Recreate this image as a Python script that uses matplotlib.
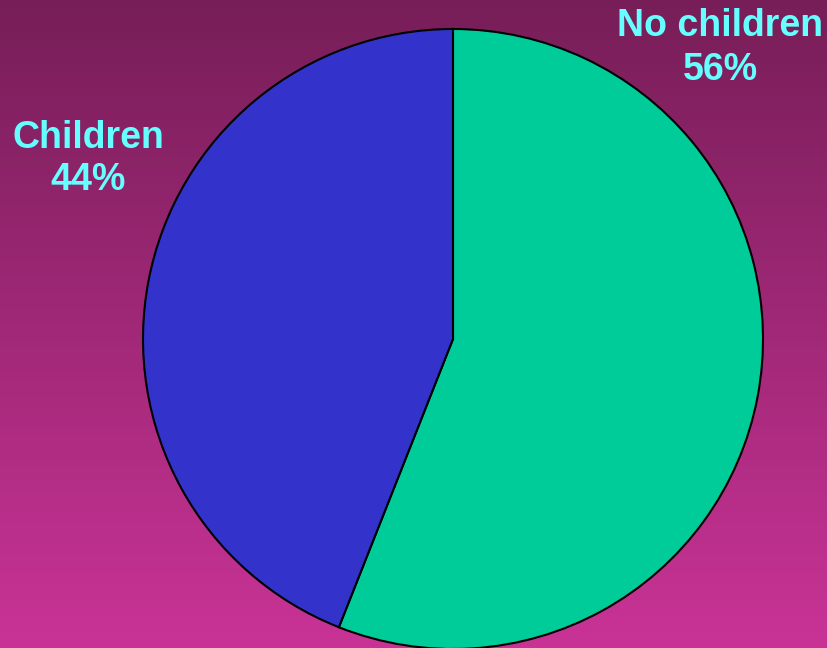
import numpy as np
import matplotlib.pyplot as plt
from matplotlib.colors import LinearSegmentedColormap

labels = ['No children', 'Children']
shares = [56, 44]
colors = ['#00cc99', '#3333cc']

W, H = 827, 648
fig = plt.figure(figsize=(W / 100, H / 100), dpi=100)

# vertical purple-to-magenta backdrop
bg = fig.add_axes([0, 0, 1, 1])
grad = np.linspace(0, 1, 256).reshape(-1, 1)
cmap = LinearSegmentedColormap.from_list('bg', ['#771e58', '#c93396'])
bg.imshow(grad, aspect='auto', cmap=cmap, extent=[0, 1, 0, 1], origin='upper')
bg.set_axis_off()

# pie centred at (453, 339) px with radius 310 px
cx, cy, r = 453, 339, 310
ax = fig.add_axes([(cx - r) / W, 1 - (cy + r) / H, 2 * r / W, 2 * r / H])
wedges, _ = ax.pie(shares, colors=colors, startangle=90, counterclock=False,
                   wedgeprops=dict(edgecolor='black', linewidth=1.5))
for w in wedges:
    w.set_clip_on(False)
ax.set_xlim(-1, 1)
ax.set_ylim(-1, 1)
ax.set_axis_off()

txt = dict(color='#66ffff', fontsize=27, fontweight='bold', ha='center', va='center',
           family=['Liberation Sans', 'DejaVu Sans'], linespacing=1.25)
fig.text(720 / W, 1 - 48 / H, f'{labels[0]}\n{shares[0]}%', **txt)
fig.text(88 / W, 1 - 159 / H, f'{labels[1]}\n{shares[1]}%', **txt)

fig.savefig('out.png', dpi=100)
